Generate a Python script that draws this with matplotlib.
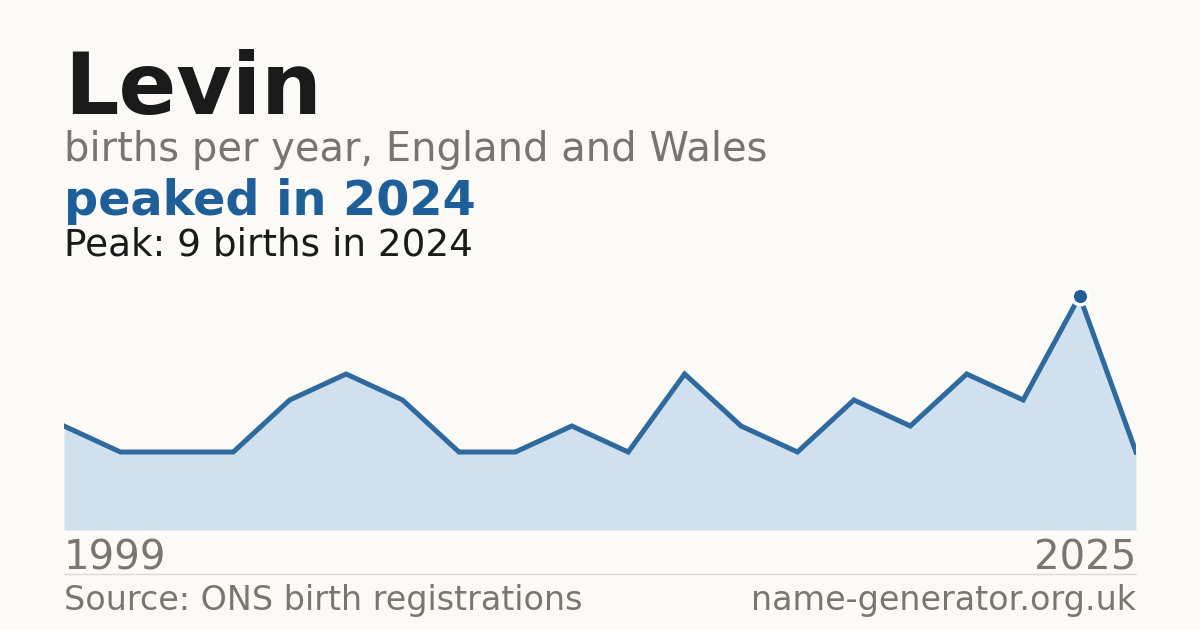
import matplotlib
matplotlib.use("Agg")
import matplotlib.pyplot as plt
from matplotlib.lines import Line2D

# births per registered year (years with no births are left out)
points = list(range(20))
births = [4, 3, 3, 3, 5, 6, 5, 3, 3, 4, 3, 6, 4, 3, 5, 4, 6, 5, 9, 3]
first_year, last_year = "1999", "2025"
peak_year = 2024

BG = "#fbfaf6"
BLUE = "#1f5f99"
GREY = "#7a756d"

fig = plt.figure(figsize=(12, 6.3), dpi=100, facecolor=BG)

# chart area: x 64..1136 px, baseline at y=530 px
ax = fig.add_axes([64 / 1200, 1 - 530 / 630, 1072 / 1200, 250 / 630])
ax.set_facecolor(BG)
ax.fill_between(points, births, 0, color="#d0e0ef", lw=0)
ax.plot(points, births, color="#2f6a9f", lw=3.6, solid_joinstyle="miter")
pk = births.index(max(births))
ax.plot(points[pk], births[pk], "o", ms=12, color=BLUE, mec="white", mew=2.5, zorder=5)
ax.set_xlim(points[0], points[-1])
ax.set_ylim(0, 250 / 26)
ax.axis("off")

fig.text(64 / 1200, 1 - 114 / 630, "Levin", fontsize=61.5, weight="bold", color="#1a1a1a")
fig.text(64 / 1200, 1 - 161 / 630, "births per year, England and Wales", fontsize=28.8, color="#777570")
fig.text(64 / 1200, 1 - 215 / 630, f"peaked in {peak_year}", fontsize=34.4, weight="bold", color=BLUE)
fig.text(64 / 1200, 1 - 255 / 630, f"Peak: {max(births)} births in {peak_year}", fontsize=26.9, color="#1a1a1a")

fig.text(64 / 1200, 1 - 570 / 630, first_year, fontsize=29, color=GREY)
fig.text(1136 / 1200, 1 - 570 / 630, last_year, fontsize=29, color=GREY, ha="right")
fig.add_artist(Line2D([64 / 1200, 1136 / 1200], [1 - 574 / 630] * 2, color="#dddad3", lw=1))
fig.text(64 / 1200, 1 - 610 / 630, "Source: ONS birth registrations", fontsize=24, color=GREY)
fig.text(1136 / 1200, 1 - 610 / 630, "name-generator.org.uk", fontsize=24, color=GREY, ha="right")

fig.savefig("out.png", dpi=100, facecolor=BG)
